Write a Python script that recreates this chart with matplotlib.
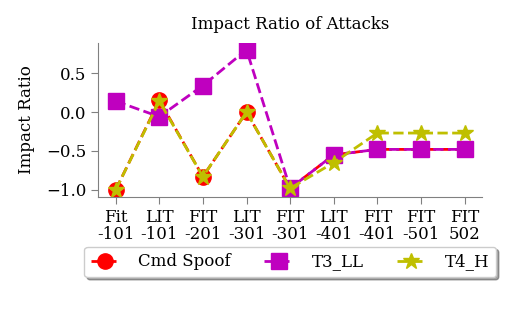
import matplotlib

matplotlib.use('Agg')
import matplotlib.pyplot as plt
import numpy as np

# 数据
attacks = ["Fit\n-101", "LIT\n-101", "FIT\n-201", "LIT\n-301", "FIT\n-301",
           "LIT\n-401", "FIT\n-401", "FIT\n-501", "FIT\n502"]
cmd_spoof = [-1.0, 0.15, -0.83, 0.0, -0.98, -0.55, -0.48, -0.48, -0.48]
t3_ll = [0.14, -0.06, 0.34, 0.80, -0.98, -0.55, -0.48, -0.48, -0.48]
t4_h = [-1.0, 0.14, -0.83, 0.0, -0.98, -0.65, -0.27, -0.27, -0.27]

plt.rcParams['font.family'] = 'DejaVu Serif'

fig = plt.figure(figsize=(5.09, 3.15), dpi=100)
ax = fig.add_axes([0.193, 0.375, 0.754, 0.488])

x = np.arange(len(attacks))
ax.plot(x, cmd_spoof, 'r--', marker='o', markersize=11, linewidth=2, label="Cmd Spoof")
ax.plot(x, t3_ll, 'm--', marker='s', markersize=12, linewidth=2, label="T3_LL")
ax.plot(x, t4_h, 'y--', marker='*', markersize=12, linewidth=2, label="T4_H")

ax.set_xticks(x)
ax.set_xticklabels(attacks, fontsize=12, linespacing=1.0)
ax.set_yticks([-1.0, -0.5, 0.0, 0.5])
ax.tick_params(axis='y', labelsize=12)
ax.tick_params(direction='out', length=5, color='grey')
ax.set_ylim(-1.09, 0.885)
ax.set_ylabel("Impact Ratio", fontsize=12, labelpad=8)
ax.set_title("Impact Ratio of Attacks", fontsize=12, pad=10)

for side in ['top', 'right']:
    ax.spines[side].set_visible(False)
for side in ['left', 'bottom']:
    ax.spines[side].set_color('grey')

ax.legend(loc='upper center', bbox_to_anchor=(0.5, -0.27), ncol=3,
          shadow=True, fontsize=12, borderpad=0.4, handlelength=1.7,
          handletextpad=1.15, columnspacing=2.0)

plt.savefig("out.png")
plt.close()
